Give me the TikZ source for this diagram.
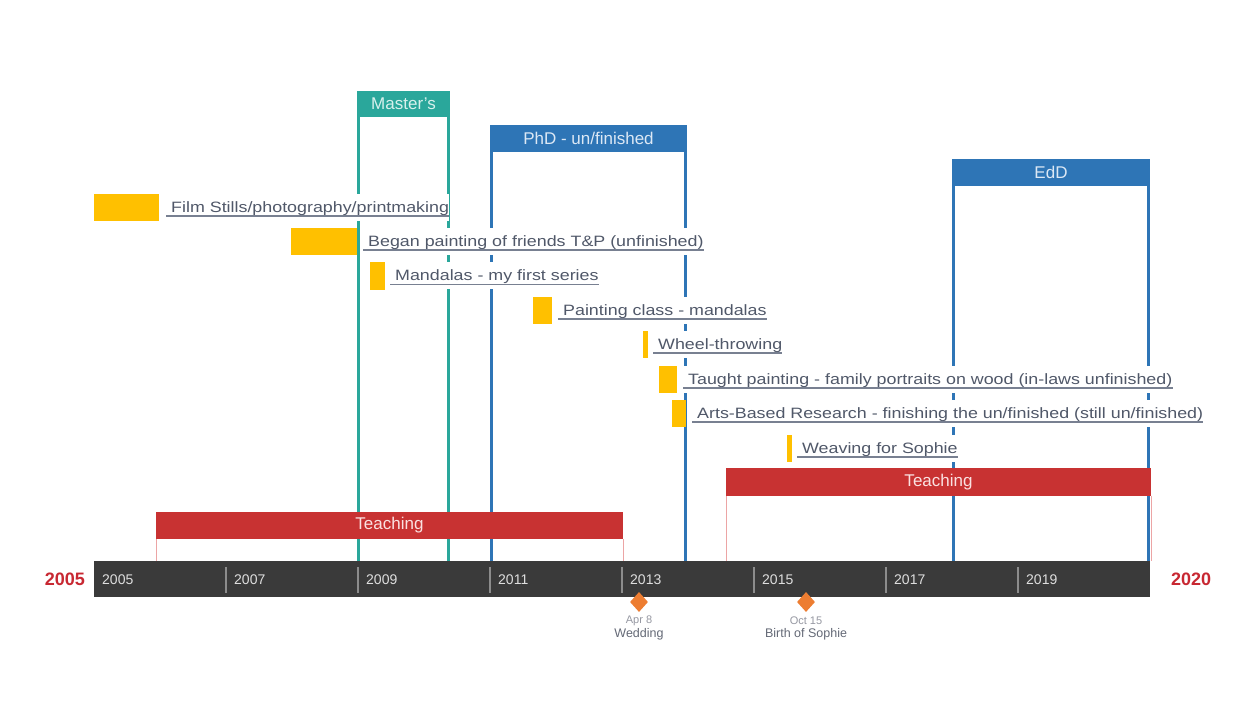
\documentclass[tikz,border=0pt]{standalone}
\usepackage{fontspec}
\setmainfont{Liberation Sans}
\newfontfamily\lblfont{Liberation Sans}[FakeStretch=1.19]
\usetikzlibrary{shapes.geometric,positioning}

\definecolor{phaseteal}{RGB}{42,167,155}
\definecolor{phaseblue}{RGB}{46,117,182}
\definecolor{tealtext}{RGB}{215,240,236}
\definecolor{bluetext}{RGB}{220,232,245}
\definecolor{teachred}{RGB}{200,50,50}
\definecolor{teachline}{RGB}{236,165,165}
\definecolor{teachtext}{RGB}{250,225,225}
\definecolor{actyellow}{RGB}{255,192,0}
\definecolor{axisgray}{RGB}{58,58,58}
\definecolor{septick}{RGB}{140,140,140}
\definecolor{yeartext}{RGB}{222,222,222}
\definecolor{endred}{RGB}{200,40,50}
\definecolor{lbltext}{RGB}{80,88,105}
\definecolor{ulinegray}{RGB}{120,128,145}
\definecolor{mileorange}{RGB}{237,125,49}
\definecolor{datetext}{RGB}{150,152,162}
\definecolor{nametext}{RGB}{100,105,118}

\tikzset{
  phase/.style={draw, line width=3pt, inner sep=0pt, outer sep=0pt, anchor=north west,
    font=\fontsize{17}{20}\selectfont},
  teachbox/.style={fill=teachred, inner sep=0pt, outer sep=0pt, anchor=north west,
    text=teachtext, font=\fontsize{17}{20}\selectfont},
  outline/.style={draw=teachline, line width=1pt},
  actbar/.style={fill=actyellow},
  lbl/.style={fill=white, inner xsep=0pt, inner ysep=0pt, anchor=west,
    minimum height=27pt, text height=11pt, text depth=1pt, text=lbltext,
    font=\lblfont\fontsize{15}{18}\selectfont},
  uline/.style={draw=ulinegray, line width=1.2pt},
  yrtext/.style={text=yeartext, inner sep=0pt, anchor=west, font=\fontsize{14}{16}\selectfont},
  sep/.style={draw=septick, line width=1.5pt},
  endyr/.style={text=endred, inner sep=0pt, font=\bfseries\fontsize{18}{20}\selectfont},
  mstone/.style={diamond, fill=mileorange, inner sep=0pt, minimum width=18pt, minimum height=20pt},
  mdate/.style={text=datetext, inner sep=0pt, font=\fontsize{11}{12}\selectfont},
  mname/.style={text=nametext, inner sep=0pt, font=\fontsize{12.5}{14}\selectfont}
}

\begin{document}
\begin{tikzpicture}[x=1pt, y=-1pt]
    \useasboundingbox (0,0) rectangle (1235,708);
    \fill[white] (0,0) rectangle (1235,708);

    % Time axis
    \node[fill=axisgray, minimum width=1056pt, minimum height=36pt, inner sep=0pt,
      outer sep=0pt, anchor=north west] (axis) at (94,561) {};
    \foreach \k/\yr in {0/2005,2/2007,4/2009,6/2011,8/2013,10/2015,12/2017,14/2019} {
        \node[yrtext] (yr\yr) at (102+66*\k,580) {\yr};
    }
    \foreach \k in {2,4,...,14} {
        \draw[sep] (94+66*\k,567) -- (94+66*\k,593);
    }

    % Degrees (header + side lines down to the axis)
    \node[phase, draw=phaseteal, fill=phaseteal, text=tealtext,
      minimum width=90pt, minimum height=23pt] (mast) at (358.5,92.5) {Master's};
    \draw[phaseteal, line width=3pt] (mast.south west) -- (mast.south west |- axis.north);
    \draw[phaseteal, line width=3pt] (mast.south east) -- (mast.south east |- axis.north);

    \node[phase, draw=phaseblue, fill=phaseblue, text=bluetext,
      minimum width=194pt, minimum height=24pt] (phd) at (491.5,126.5) {PhD - un/finished};
    \draw[phaseblue, line width=3pt] (phd.south west) -- (phd.south west |- axis.north);
    \draw[phaseblue, line width=3pt] (phd.south east) -- (phd.south east |- axis.north);

    \node[phase, draw=phaseblue, fill=phaseblue, text=bluetext,
      minimum width=195pt, minimum height=24pt] (edd) at (953.5,160.5) {EdD};
    \draw[phaseblue, line width=3pt] (edd.south west) -- (edd.south west |- axis.north);
    \draw[phaseblue, line width=3pt] (edd.south east) -- (edd.south east |- axis.north);

    % Teaching periods
    \node[teachbox, minimum width=467pt, minimum height=27pt] (teach1) at (156,512) {Teaching};
    \draw[outline] (teach1.south west) -- (teach1.south west |- axis.north);
    \draw[outline] (teach1.south east) -- (teach1.south east |- axis.north);

    \node[teachbox, minimum width=425pt, minimum height=28pt] (teach2) at (726,468) {Teaching};
    \draw[outline] (teach2.south west) -- (teach2.south west |- axis.north);
    \draw[outline] (teach2.south east) -- (teach2.south east |- axis.north);

    % Art projects
    \node[lbl] (film) at (166,207.5) {\hspace*{5pt}Film Stills/photography/printmaking};
    \draw[uline] ([yshift=-8.5pt]film.west) -- ([yshift=-8.5pt]film.east);
    \fill[actbar] (94,194) rectangle (159,221);

    \node[lbl] (friends) at (363,241.5) {\hspace*{5pt}Began painting of friends T\&P (unfinished)};
    \draw[uline] ([yshift=-8.5pt]friends.west) -- ([yshift=-8.5pt]friends.east);
    \fill[actbar] (291,228) rectangle (357,255);

    \node[lbl] (mandala) at (390,276) {\hspace*{5pt}Mandalas - my first series};
    \draw[uline] ([yshift=-8.5pt]mandala.west) -- ([yshift=-8.5pt]mandala.east);
    \fill[actbar] (370,262) rectangle (385,290);

    \node[lbl] (pclass) at (558,310.5) {\hspace*{5pt}Painting class - mandalas};
    \draw[uline] ([yshift=-8.5pt]pclass.west) -- ([yshift=-8.5pt]pclass.east);
    \fill[actbar] (533,297) rectangle (552,324);

    \node[lbl] (wheel) at (653,344.5) {\hspace*{5pt}Wheel-throwing};
    \draw[uline] ([yshift=-8.5pt]wheel.west) -- ([yshift=-8.5pt]wheel.east);
    \fill[actbar] (643,331) rectangle (648,358);

    \node[lbl] (taught) at (683,379.5) {\hspace*{5pt}Taught painting - family portraits on wood (in-laws unfinished)};
    \draw[uline] ([yshift=-8.5pt]taught.west) -- ([yshift=-8.5pt]taught.east);
    \fill[actbar] (659,366) rectangle (677,393);

    \node[lbl] (abr) at (692,413.5) {\hspace*{5pt}Arts-Based Research - finishing the un/finished (still un/finished)};
    \draw[uline] ([yshift=-8.5pt]abr.west) -- ([yshift=-8.5pt]abr.east);
    \fill[actbar] (672,400) rectangle (686,427);

    \node[lbl] (weave) at (797,448.5) {\hspace*{5pt}Weaving for Sophie};
    \draw[uline] ([yshift=-8.5pt]weave.west) -- ([yshift=-8.5pt]weave.east);
    \fill[actbar] (787,435) rectangle (792,462);

    % Milestones
    \node[mstone] (wed) at (639,602) {};
    \node[mdate] (weddate) at (639,621) {Apr 8};
    \node[mname] (wedname) at (639,634) {Wedding};

    \node[mstone] (birth) at (806,602) {};
    \node[mdate] (birthdate) at (806,621) {Oct 15};
    \node[mname] (birthname) at (806,634) {Birth of Sophie};

    % Start and end years
    \node[endyr, left=9pt of axis] (ystart) {2005};
    \node[endyr, right=21pt of axis] (yend) {2020};
\end{tikzpicture}
\end{document}
